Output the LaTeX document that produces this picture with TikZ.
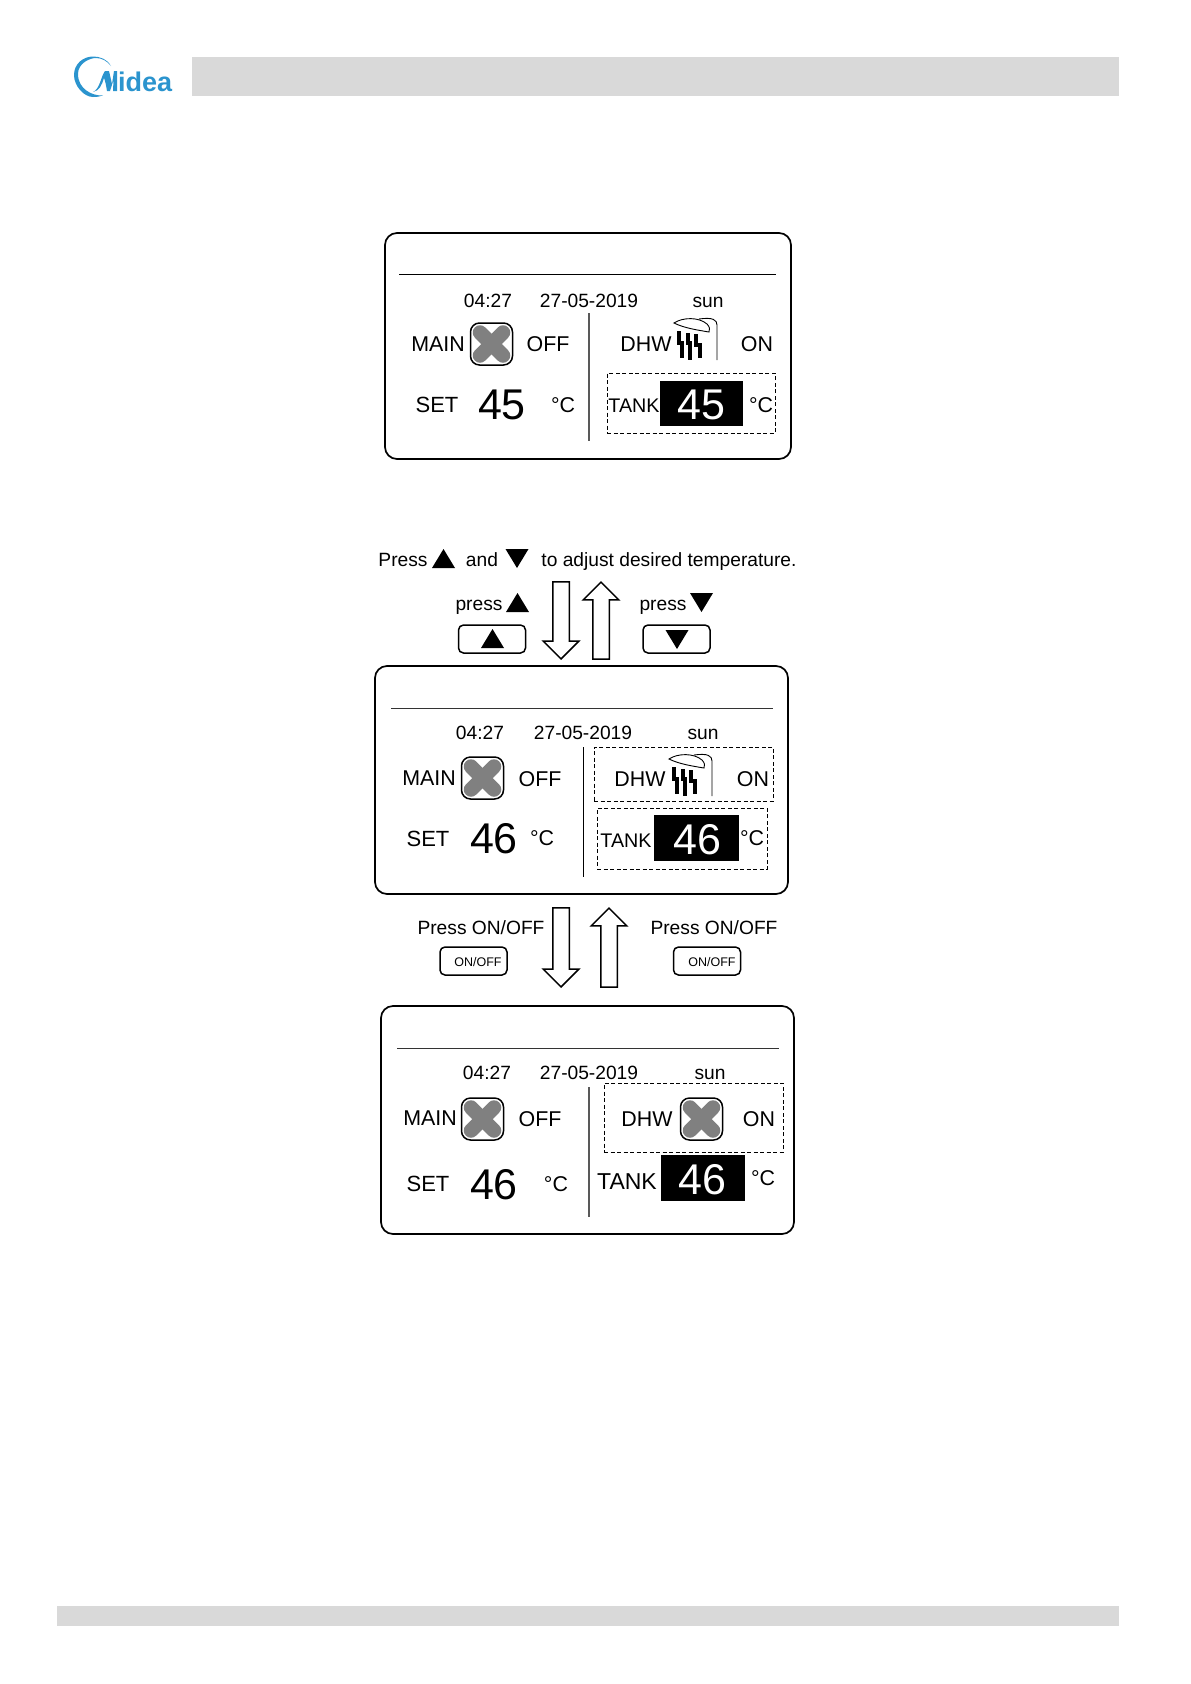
\documentclass[tikz,border=0pt]{standalone}
\usepackage{fontspec}
\setmainfont{Liberation Sans}
\usetikzlibrary{shapes.arrows}
\definecolor{bargray}{HTML}{D9D9D9}
\definecolor{iconcolor}{HTML}{808080}
\definecolor{logoblue}{HTML}{2B94CE}
\tikzset{
  txt/.style={anchor=base, inner sep=0pt, font=\fontsize{#1}{#1}\selectfont},
  txt/.default=21.4,
  panel/.style={draw, line width=1.7pt, rounded corners=12pt, minimum width=#1, inner sep=0pt, outer sep=0pt},
  keybox/.style={draw, line width=1.5pt, rounded corners=5pt, minimum width=67pt, minimum height=28pt, inner sep=0pt},
  fanbox/.style={draw, line width=1.5pt, rounded corners=9pt, minimum width=42pt, minimum height=42pt, inner sep=0pt},
  blackbox/.style={fill=black, minimum width=84pt, minimum height=46pt, inner sep=0pt},
  dashbox/.style={draw, line width=1pt, dash pattern=on 4pt off 2.5pt, inner sep=0pt},
  hollow/.style={draw, line width=1.5pt, single arrow, single arrow head extend=9.5pt, minimum width=34pt, inner xsep=0pt, inner ysep=7.5pt},
  pics/fan/.style={code={
    \draw[iconcolor, line width=14.5pt, line cap=round] (-11.5,-11.5) -- (11.5,11.5);
    \draw[iconcolor, line width=14.5pt, line cap=round] (-11.5,11.5) -- (11.5,-11.5);
  }},
  pics/shower/.style={code={
    \draw[line width=.9pt] (0,0) -- (0,-35) .. controls (0,-40) and (-4,-43) .. (-18,-41);
    \draw[line width=.9pt, fill=white] (-43,-37) .. controls (-34,-43) and (-18,-43) .. (-10,-36) .. controls (-7,-33) and (-7,-30) .. (-8,-28) .. controls (-20,-30) and (-33,-32) .. (-43,-37) -- cycle;
    \draw[line width=3.4pt] (-38,-29) -- (-38,-17) -- (-35,-17) -- (-35,-2);
    \draw[line width=3.4pt] (-29,-27) -- (-29,-17) -- (-27,-17) -- (-27,0);
    \draw[line width=3.4pt] (-21,-26) -- (-21,-15) -- (-17,-15) -- (-17,-2);
  }},
  pics/upmark/.style={code={\fill (-11.5,0) -- (11.5,0) -- (0,-19) -- cycle;}},
  pics/downmark/.style={code={\fill (-11.5,-19) -- (11.5,-19) -- (0,0) -- cycle;}},
}
\begin{document}
\begin{tikzpicture}[x=1pt, y=-1pt]
\useasboundingbox (0,0) rectangle (1191,1684);
% header, footer
\node[fill=bargray, minimum width=927pt, minimum height=39pt, inner sep=0pt] (header) at (655.5,76.5) {};
\node[fill=bargray, minimum width=1062pt, minimum height=20pt, inner sep=0pt] (footer) at (588,1616) {};
% logo
\fill[logoblue] (111,66) .. controls (107,59) and (100,56.5) .. (93,56.5) .. controls (83,56.5) and (74,64) .. (74,75) .. controls (74,86) and (84,97) .. (93,97) .. controls (97,97) and (100,96.5) .. (103,95.5) .. controls (92,96) and (78,89) .. (78,74) .. controls (78,63) and (90,58) .. (96,58) .. controls (102,58) and (107,61) .. (111,66) -- cycle;
\fill[logoblue] (93,92) .. controls (100,89) and (101,76) .. (105,71) -- (109,71) -- (112,84) -- (114,71) -- (117,71) -- (117,91) -- (113,91) -- (113.5,80) -- (110,91) -- (107,91) .. controls (106,85) and (105,80) .. (104,78) .. controls (102,85) and (99,91) .. (93,92) -- cycle;
\node[txt=27, text=logoblue, font=\fontsize{27}{27}\selectfont\bfseries, anchor=base west] (logotext) at (118,91) {idea};

% panel 1
\node[panel=406pt, minimum height=226pt] (panelA) at (588,346) {};
\draw[line width=1pt] (399,274) -- (776,274);
\draw[line width=1.2pt, black!65] (589,313) -- (589,441);
\node[txt=19.2] (timeA) at (488,307.5) {04:27};
\node[txt=19.2] (dateA) at (589,307.5) {27-05-2019};
\node[txt=19.2] (dayA) at (708,307.5) {sun};
\node[txt] (mainA) at (438,351) {MAIN};
\node[fanbox] (fanA) at (491.5,344) {};
\pic at (491.5,344) {fan};
\node[txt] (offA) at (548,351) {OFF};
\node[txt] (dhwA) at (646,351) {DHW};
\pic at (717,360) {shower};
\node[txt] (onA) at (757,351) {ON};
\node[txt=22] (setA) at (437,412) {SET};
\node[txt=43] (valA) at (502,419) {45};
\node[txt] (unitA) at (563,412) {°C};
\node[dashbox, minimum width=168pt, minimum height=60pt] (dashA) at (691,403) {};
\node[blackbox, minimum width=83pt, minimum height=45pt] (blackA) at (701.5,403.5) {};
\node[txt=19.7] (tankA) at (634,412) {TANK};
\node[txt=43, text=white] (tankvalA) at (701,419) {45};
\node[txt] (tankunitA) at (761,412) {°C};

% press row
\node[txt=19.2] (pressT) at (403,566) {Press};
\pic at (443.5,568) {upmark};
\node[txt=19.2] (andT) at (482,566) {and};
\pic at (517,568) {downmark};
\node[txt=19.2] (adjustT) at (669,566) {to adjust desired temperature.};
\node[txt=19.2] (pressU) at (479,610) {press};
\pic at (517.5,612) {upmark};
\node[txt=19.2] (pressD) at (663,610) {press};
\pic at (701.5,612) {downmark};
\node[keybox] (keyU) at (492,639) {};
\pic at (492.5,648) {upmark};
\node[keybox] (keyD) at (676.5,639) {};
\pic at (677,649) {downmark};
\node[hollow, minimum height=77pt, rotate=-90] (arrD1) at (561,616.3) {};
\node[hollow, minimum height=77pt, rotate=90] (arrU1) at (601,624.7) {};

% panel 2
\node[panel=413pt, minimum height=228pt] (panelB) at (581.5,780) {};
\draw[line width=1pt, black!80] (391,708) -- (773,708);
\draw[line width=1pt] (583,747) -- (583,877);
\node[txt=19.2] (timeB) at (480,739) {04:27};
\node[txt=19.2] (dateB) at (583,739) {27-05-2019};
\node[txt=19.2] (dayB) at (703,739) {sun};
\node[txt] (mainB) at (429,785) {MAIN};
\node[fanbox] (fanB) at (482.5,778) {};
\pic at (482.5,778) {fan};
\node[txt] (offB) at (540,786) {OFF};
\node[dashbox, minimum width=179pt, minimum height=54pt] (dashB) at (683.5,774) {};
\node[txt] (dhwB) at (640,786) {DHW};
\pic at (712,796) {shower};
\node[txt] (onB) at (753,786) {ON};
\node[txt=22] (setB) at (428,846) {SET};
\node[txt=43] (valB) at (494,853) {46};
\node[txt] (unitB) at (542,845) {°C};
\node[dashbox, minimum width=170pt, minimum height=61pt] (dashC) at (682,838.5) {};
\node[blackbox, minimum width=85pt] (blackB) at (696.5,838) {};
\node[txt=19.7] (tankB) at (626,847) {TANK};
\node[txt=43, text=white] (tankvalB) at (697,854) {46};
\node[txt] (tankunitB) at (752,845) {°C};

% on/off row
\node[txt=19.2] (onoffL) at (481,934) {Press ON/OFF};
\node[txt=19.2] (onoffR) at (714,934) {Press ON/OFF};
\node[keybox] (keyL) at (473.5,961) {};
\node[txt=12.5] (keytextL) at (478,966) {ON/OFF};
\node[keybox] (keyR) at (707,961) {};
\node[txt=12.5] (keytextR) at (712,966) {ON/OFF};
\node[hollow, minimum height=79pt, rotate=-90] (arrD2) at (561,943.3) {};
\node[hollow, minimum height=79pt, rotate=90] (arrU2) at (609,951.7) {};

% panel 3
\node[panel=413pt, minimum height=228pt] (panelC) at (587.5,1120) {};
\draw[line width=1pt, black!80] (397,1048) -- (779,1048);
\draw[line width=1.2pt, black!65] (589,1087) -- (589,1217);
\node[txt=19.2] (timeC) at (487,1079) {04:27};
\node[txt=19.2] (dateC) at (589,1079) {27-05-2019};
\node[txt=19.2] (dayC) at (710,1079) {sun};
\node[txt] (mainC) at (430,1125) {MAIN};
\node[fanbox] (fanC) at (482.5,1119) {};
\pic at (482.5,1119) {fan};
\node[txt] (offC) at (540,1126) {OFF};
\node[dashbox, minimum width=179pt, minimum height=69pt] (dashD) at (693.5,1117.5) {};
\node[txt] (dhwC) at (647,1126) {DHW};
\node[fanbox] (fanD) at (701.5,1119) {};
\pic at (701.5,1119) {fan};
\node[txt] (onC) at (759,1126) {ON};
\node[txt=22] (setC) at (428,1191) {SET};
\node[txt=43] (valC) at (494,1199) {46};
\node[txt] (unitC) at (556,1191) {°C};
\node[blackbox] (blackC) at (703,1178) {};
\node[txt=23] (tankC) at (627,1189) {TANK};
\node[txt=43, text=white] (tankvalC) at (702,1194) {46};
\node[txt] (tankunitC) at (763,1185) {°C};
\end{tikzpicture}
\end{document}
